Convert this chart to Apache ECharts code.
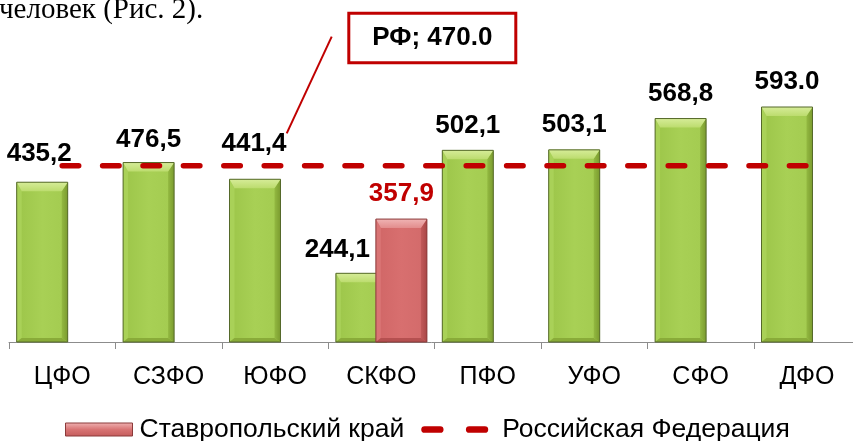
<!DOCTYPE html>
<html>
<head>
<meta charset="utf-8">
<script src="https://cdn.jsdelivr.net/npm/echarts@6/dist/echarts.min.js"></script>
<style>html,body{margin:0;padding:0;background:#fff;}#c{width:853px;height:441px;}</style>
</head>
<body>
<div id="c"></div>
<script>
// ---- data ----
const categories = ['ЦФО', 'СЗФО', 'ЮФО', 'СКФО', 'ПФО', 'УФО', 'СФО', 'ДФО'];
const districtValues = [435.2, 476.5, 441.4, 244.1, 502.1, 503.1, 568.8, 593.0];
const stavropolValues = [null, null, null, 357.9, null, null, null, null];
const rfValues = [470, 470, 470, 470, 470, 470, 470, 470];
const rfCallout = 'РФ; 470.0';
const seriesNames = ['Федеральные округа', 'Ставропольский край', 'Российская Федерация'];
const periodDecimalIdx = [7]; // "593.0" is written with a point in the source

// ---- style (not data) ----
const Y_MIN = 100, Y_MAX = 700;
const BAR_W = 51, GREEN_SHIFT = -20, RED_SHIFT = 20;
const labelNudge = [[-3, -3], [0, 2], [-1, -10], [-24, 2], [0, 0], [0, 0], [0, 0], [0, 0]];
const FONT = "'Liberation Sans', Arial, sans-serif";
const LG = (x0, y0, x1, y1, stops) => new echarts.graphic.LinearGradient(x0, y0, x1, y1,
  stops.map((c, k) => ({offset: k / (stops.length - 1), color: c})));
const fmt = (v, i) => {
  const s = v.toFixed(1);
  return periodDecimalIdx.includes(i) ? s : s.replace('.', ',');
};
const greenPal = {
  base: ['#9cc549', '#a8d055', '#a3cb50'], top: ['#d6ec98', '#bcdc6e'],
  left: '#a9d158', right: ['#93b941', '#7b9b2f'], bottom: '#89ab39', border: '#55692a'
};
const redPal = {
  base: ['#d06666', '#d86f6f', '#d26a6a'], top: ['#f0b4b4', '#e28c8c'],
  left: '#d97474', right: ['#c25a5a', '#a94646'], bottom: '#b55050', border: '#8b3a3a'
};

function bevelBar(shift, pal, labelColor, useNudge) {
  return function (params, api) {
    const i = api.value(0), v = api.value(1);
    const topPt = api.coord([i, v]);
    const basePt = api.coord([i, Y_MIN]);
    const cx = topPt[0] + shift;
    const x0 = cx - BAR_W / 2, x1 = cx + BAR_W / 2, y0 = topPt[1], y1 = basePt[1];
    const bt = 9, bs = 5, bb = 4;
    const nud = useNudge ? labelNudge[i] : [0, 0];
    return {
      type: 'group',
      children: [
        {type: 'rect', shape: {x: x0, y: y0, width: BAR_W, height: y1 - y0},
          style: {fill: LG(0, 0, 1, 0, pal.base)}},
        {type: 'polygon', shape: {points: [[x0, y0], [x0 + bs, y0 + bt], [x0 + bs, y1 - bb], [x0, y1]]},
          style: {fill: pal.left}},
        {type: 'polygon', shape: {points: [[x1, y0], [x1 - bs - 1, y0 + bt], [x1 - bs - 1, y1 - bb], [x1, y1]]},
          style: {fill: LG(0, 0, 1, 0, pal.right)}},
        {type: 'polygon', shape: {points: [[x0, y1], [x0 + bs, y1 - bb], [x1 - bs - 1, y1 - bb], [x1, y1]]},
          style: {fill: pal.bottom}},
        {type: 'polygon', shape: {points: [[x0, y0], [x1, y0], [x1 - bs - 1, y0 + bt], [x0 + bs, y0 + bt]]},
          style: {fill: LG(0, 0, 0, 1, pal.top)}},
        {type: 'rect', shape: {x: x0, y: y0, width: BAR_W, height: y1 - y0},
          style: {fill: null, stroke: pal.border, lineWidth: 1}},
        {type: 'text', x: cx + nud[0], y: y0 - 12 + nud[1], z2: 20,
          style: {text: fmt(v, i), fontFamily: FONT, fontSize: 26, fontWeight: 'bold',
            fill: labelColor, align: 'center', verticalAlign: 'bottom'}}
      ]
    };
  };
}

const chart = echarts.init(document.getElementById('c'), null, {renderer: 'canvas'});
chart.setOption({
  animation: false,
  backgroundColor: '#ffffff',
  grid: {left: 9, top: 56, width: 851.2, height: 286, containLabel: false, outerBoundsMode: 'none'},
  xAxis: {
    type: 'category', data: categories,
    axisLine: {lineStyle: {color: '#8c8c8c', width: 1}},
    axisTick: {show: true, length: 7, lineStyle: {color: '#8c8c8c'}},
    axisLabel: {color: '#000', fontFamily: FONT, fontSize: 25, margin: 23}
  },
  yAxis: {type: 'value', min: Y_MIN, max: Y_MAX, show: false, splitLine: {show: false}},
  legend: {
    data: [
      {name: seriesNames[1], icon: 'rect',
        itemStyle: {color: LG(0, 0, 0, 1, ['#f0b4b4', '#d87474', '#c45c5c']), borderColor: '#8b3a3a', borderWidth: 1},
        textStyle: {padding: [0, 0, 0, 2]}},
      {name: seriesNames[2],
        icon: 'path://M3,0 L17,0 A3,3 0 0 1 17,6 L3,6 A3,3 0 0 1 3,0 Z M43,0 L57,0 A3,3 0 0 1 57,6 L43,6 A3,3 0 0 1 43,0 Z',
        itemStyle: {color: '#c00000', borderWidth: 0},
        textStyle: {padding: [0, 0, 0, 9]}}
    ],
    left: 65, top: 416, padding: 0, itemWidth: 67, itemHeight: 13, itemGap: 17,
    textStyle: {color: '#000', fontFamily: FONT, fontSize: 26.5}
  },
  series: [
    {
      name: seriesNames[0], type: 'custom', renderItem: bevelBar(GREEN_SHIFT, greenPal, '#000', true),
      data: districtValues.map((v, i) => [i, v]), encode: {x: 0, y: 1},
      itemStyle: {color: '#a5ce52'}, z: 2
    },
    {
      name: seriesNames[1], type: 'custom', renderItem: bevelBar(RED_SHIFT, redPal, '#c00000', false),
      data: stavropolValues.map((v, i) => [i, v]).filter(d => d[1] != null), encode: {x: 0, y: 1},
      itemStyle: {color: '#d46a6a'}, z: 3
    },
    {
      name: seriesNames[2], type: 'line', data: rfValues, symbol: 'none',
      itemStyle: {color: '#c00000'},
      lineStyle: {color: '#c00000', width: 5.5, type: [16.5, 23.9], cap: 'round'},
      z: 5
    }
  ],
  graphic: [
    {type: 'text', left: -1, top: -4,
      style: {text: 'человек (Рис. 2).', fontFamily: "'Liberation Serif', 'Times New Roman', serif",
        fontSize: 29, fill: '#000'}},
    {type: 'line', shape: {x1: 331.7, y1: 36.7, x2: 286.7, y2: 133.3},
      style: {stroke: '#c00000', lineWidth: 2}},
    {type: 'rect', shape: {x: 348.8, y: 13.2, width: 167, height: 49.6},
      style: {fill: '#fff', stroke: '#c00000', lineWidth: 3}},
    {type: 'text', x: 432.3, y: 38,
      style: {text: rfCallout, fontFamily: FONT, fontSize: 26, fontWeight: 'bold', fill: '#000',
        align: 'center', verticalAlign: 'middle'}}
  ]
});
</script>
</body>
</html>
